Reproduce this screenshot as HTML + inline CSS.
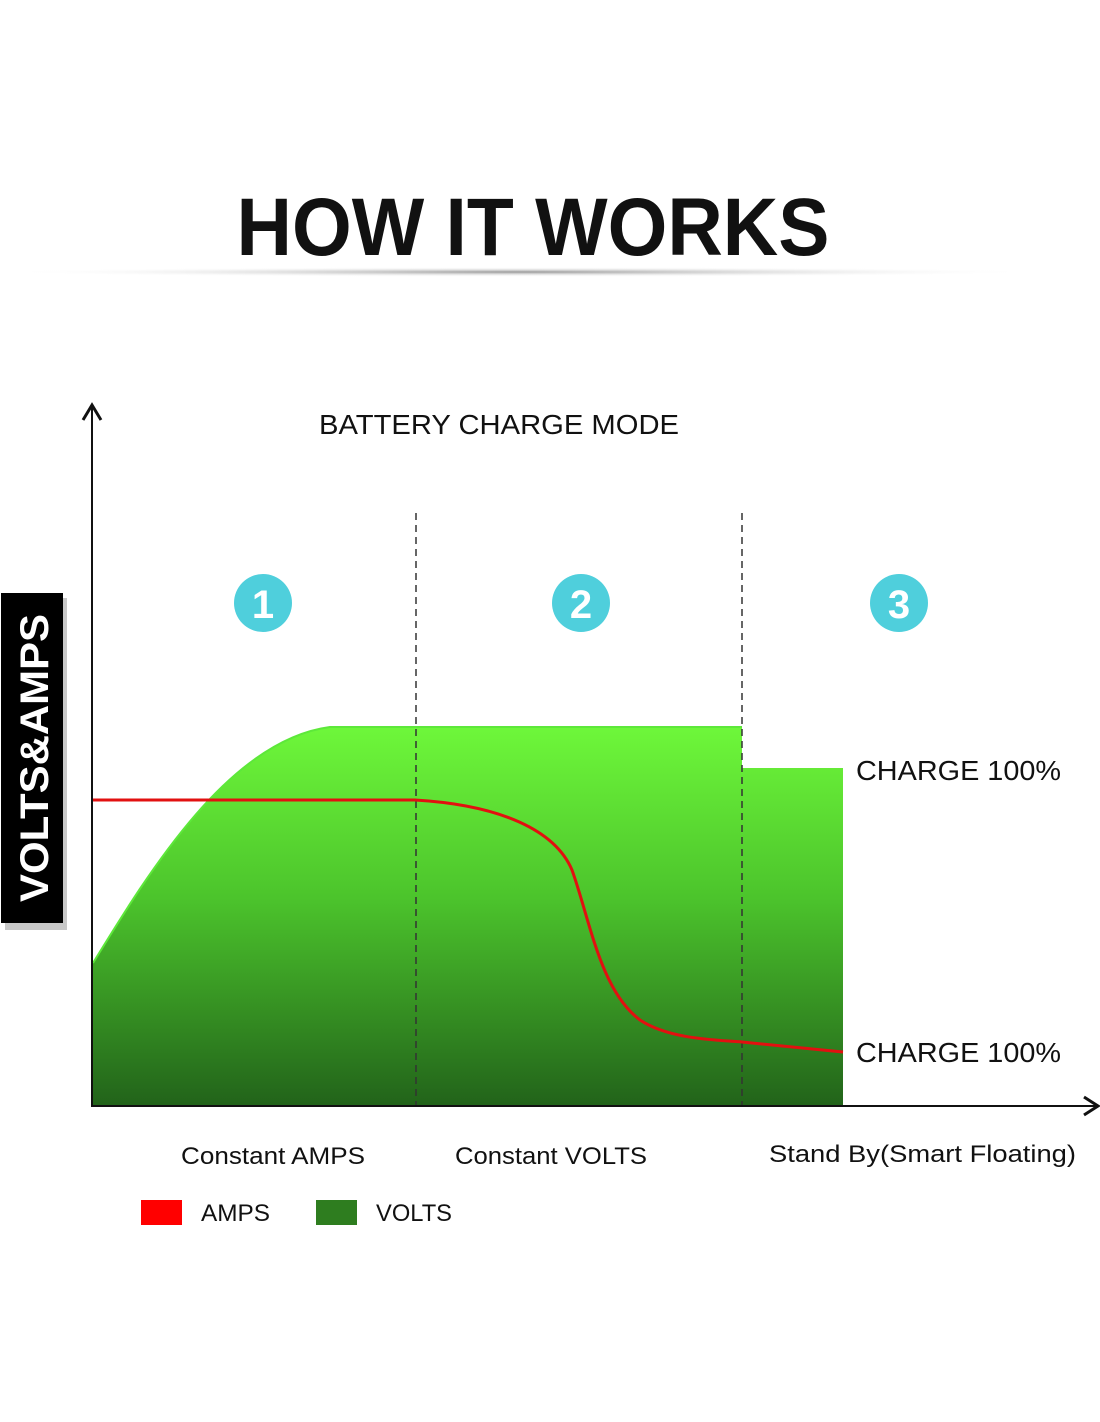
<!DOCTYPE html>
<html><head><meta charset="utf-8"><style>
html,body{margin:0;padding:0;background:#fff;}
svg{display:block;}
text{font-family:"Liberation Sans","DejaVu Sans",sans-serif;}
</style></head><body>
<svg width="1100" height="1422" viewBox="0 0 1100 1422" xmlns="http://www.w3.org/2000/svg">
<defs>
<linearGradient id="g" x1="0" y1="727" x2="0" y2="1106" gradientUnits="userSpaceOnUse">
<stop offset="0" stop-color="#6ef73a"/><stop offset="0.45" stop-color="#4cc42c"/><stop offset="1" stop-color="#22631a"/>
</linearGradient>
<radialGradient id="sh" cx="0.5" cy="0.5" r="0.5">
<stop offset="0" stop-color="#999"/><stop offset="1" stop-color="#fff" stop-opacity="0"/>
</radialGradient>
</defs>
<text x="533" y="255" text-anchor="middle" font-size="82" font-weight="bold" fill="#111" textLength="593" lengthAdjust="spacingAndGlyphs">HOW IT WORKS</text>
<ellipse cx="520" cy="272" rx="520" ry="5" fill="url(#sh)"/>
<text x="499" y="434" text-anchor="middle" font-size="28" fill="#111" textLength="360" lengthAdjust="spacingAndGlyphs">BATTERY CHARGE MODE</text>
<!-- y label box -->
<rect x="5" y="598" width="62" height="332" fill="#c8c8c8"/>
<rect x="1" y="593" width="62" height="330" fill="#000"/>
<text transform="translate(48,758) rotate(-90)" text-anchor="middle" font-size="40" font-weight="bold" fill="#fff" textLength="288" lengthAdjust="spacingAndGlyphs">VOLTS&amp;AMPS</text>
<!-- green area -->
<path d="M93,963 C150,870 230,740 330,727 L742,727 L742,768 L843,768 L843,1106 L93,1106 Z" fill="url(#g)"/>
<path d="M93,963 C150,870 230,740 330,727 L742,727" fill="none" stroke="#5de83a" stroke-width="2"/>
<!-- dashed lines -->
<line x1="416" y1="513" x2="416" y2="1106" stroke="#333" stroke-width="1.5" stroke-dasharray="7,5"/>
<line x1="742" y1="513" x2="742" y2="1106" stroke="#333" stroke-width="1.5" stroke-dasharray="7,5"/>
<!-- red line -->
<path d="M93,800 L415,800 C500,805 555,830 572,870 C590,920 600,990 640,1020 C670,1040 720,1040 742,1042 L843,1052" fill="none" stroke="#e21010" stroke-width="3"/>
<!-- axes -->
<line x1="92" y1="406" x2="92" y2="1107" stroke="#111" stroke-width="2"/>
<polyline points="83,420 92,405 101,420" fill="none" stroke="#111" stroke-width="3"/>
<line x1="92" y1="1106" x2="1097" y2="1106" stroke="#111" stroke-width="2"/>
<polyline points="1084,1097 1098,1106 1084,1115" fill="none" stroke="#111" stroke-width="3"/>
<!-- circles -->
<circle cx="263" cy="603" r="29" fill="#4fcfdc"/>
<circle cx="581" cy="603" r="29" fill="#4fcfdc"/>
<circle cx="899" cy="603" r="29" fill="#4fcfdc"/>
<text x="263" y="618" text-anchor="middle" font-size="40" font-weight="bold" fill="#fff">1</text>
<text x="581" y="618" text-anchor="middle" font-size="40" font-weight="bold" fill="#fff">2</text>
<text x="899" y="618" text-anchor="middle" font-size="40" font-weight="bold" fill="#fff">3</text>
<!-- right labels -->
<text x="856" y="780" font-size="28" fill="#111" textLength="205" lengthAdjust="spacingAndGlyphs">CHARGE 100%</text>
<text x="856" y="1062" font-size="28" fill="#111" textLength="205" lengthAdjust="spacingAndGlyphs">CHARGE 100%</text>
<!-- bottom labels -->
<text x="181" y="1164" font-size="24" fill="#111" textLength="184" lengthAdjust="spacingAndGlyphs">Constant AMPS</text>
<text x="455" y="1164" font-size="24" fill="#111" textLength="192" lengthAdjust="spacingAndGlyphs">Constant VOLTS</text>
<text x="769" y="1162" font-size="24" fill="#111" textLength="307" lengthAdjust="spacingAndGlyphs">Stand By(Smart Floating)</text>
<!-- legend -->
<rect x="141" y="1200" width="41" height="25" fill="#f00"/>
<text x="201" y="1221" font-size="24" fill="#111" textLength="69" lengthAdjust="spacingAndGlyphs">AMPS</text>
<rect x="316" y="1200" width="41" height="25" fill="#2e7d1f"/>
<text x="376" y="1221" font-size="24" fill="#111" textLength="76" lengthAdjust="spacingAndGlyphs">VOLTS</text>
</svg>
</body></html>
